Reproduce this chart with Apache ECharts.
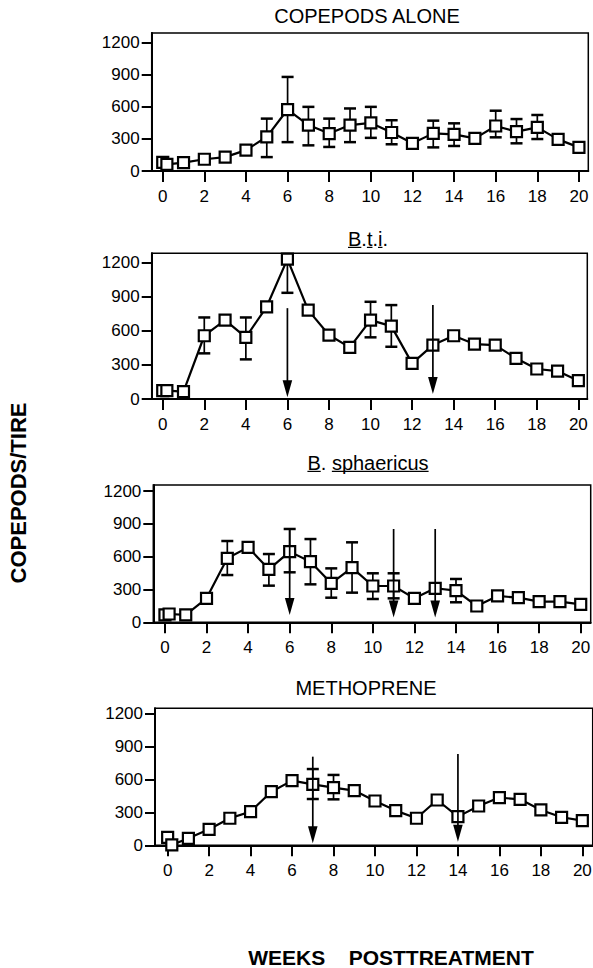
<!DOCTYPE html>
<html>
<head>
<meta charset="utf-8">
<script src="https://cdn.jsdelivr.net/npm/echarts@6/dist/echarts.min.js"></script>
<style>
  html, body { margin: 0; padding: 0; background: #fff; }
  #chart { width: 593px; height: 968px; }
</style>
</head>
<body>
<div id="chart"></div>
<script>
// weeks posttreatment (two samples at week 0)
const weeks = [0, 0.2, 1, 2, 3, 4, 5, 6, 7, 8, 9, 10, 11, 12, 13, 14, 15, 16, 17, 18, 19, 20];
const xTicks = [0, 2, 4, 6, 8, 10, 12, 14, 16, 18, 20];
const yTicks = [0, 300, 600, 900, 1200];

// copepods alone
const aloneVals = [80, 62, 78, 110, 130, 195, 320, 575, 430, 350, 430, 450, 360, 259, 352, 343, 305, 421, 368, 408, 296, 221];
const aloneErrWeeks = [5, 6, 7, 8, 9, 10, 11, 13, 14, 16, 17, 18];
const aloneErrLow = [130, 270, 240, 225, 270, 310, 250, 221, 234, 315, 259, 299];
const aloneErrHigh = [490, 880, 600, 490, 585, 600, 475, 471, 446, 564, 486, 524];
const aloneArrowWeeks = [];

// B.t.i.
const btiVals = [73, 73, 65, 557, 695, 543, 812, 1232, 783, 563, 455, 695, 642, 314, 475, 557, 484, 475, 358, 264, 246, 161];
const btiErrWeeks = [2, 4, 6, 10, 11];
const btiErrLow = [402, 349, 935, 543, 460];
const btiErrHigh = [718, 718, 1232, 856, 827];
const btiArrowWeeks = [6, 13];
const btiArrowFrom = [800, 827];
const btiArrowTo = [15, 45];

// B. sphaericus
const sphVals = [67, 76, 67, 219, 585, 685, 484, 646, 554, 356, 500, 332, 332, 219, 311, 289, 149, 241, 225, 189, 189, 164];
const sphErrWeeks = [3, 5, 6, 7, 8, 9, 10, 11, 14];
const sphErrLow = [432, 335, 457, 347, 225, 271, 213, 219, 183];
const sphErrHigh = [743, 624, 853, 761, 493, 731, 448, 448, 396];
const sphArrowWeeks = [6, 11, 13];
const sphArrowFrom = [853, 853, 853];
const sphArrowTo = [67, 43, 43];

// methoprene
const methVals = [73, 3, 64, 146, 247, 308, 490, 591, 557, 527, 500, 405, 317, 247, 414, 262, 359, 436, 420, 323, 256, 225];
const methErrWeeks = [7, 8];
const methErrLow = [423, 420];
const methErrHigh = [697, 643];
const methArrowWeeks = [7, 14];
const methArrowFrom = [810, 835];
const methArrowTo = [18, 33];

const FONT = '"Liberation Sans", Arial, Helvetica, sans-serif';

const panels = [
  { vals: aloneVals, ew: aloneErrWeeks, el: aloneErrLow, eh: aloneErrHigh, aw: aloneArrowWeeks, af: [], at: [],
    grid: { left: 151.7, top: 33, width: 436.6, height: 138 }, xMin: -0.53, xMax: 20.45, yMax: 1291 },
  { vals: btiVals, ew: btiErrWeeks, el: btiErrLow, eh: btiErrHigh, aw: btiArrowWeeks, af: btiArrowFrom, at: btiArrowTo,
    grid: { left: 151.7, top: 253.3, width: 435.6, height: 145.7 }, xMin: -0.53, xMax: 20.43, yMax: 1283 },
  { vals: sphVals, ew: sphErrWeeks, el: sphErrLow, eh: sphErrHigh, aw: sphArrowWeeks, af: sphArrowFrom, at: sphArrowTo,
    grid: { left: 153.3, top: 485, width: 437.4, height: 137.3 }, xMin: -0.56, xMax: 20.48, yMax: 1255 },
  { vals: methVals, ew: methErrWeeks, el: methErrLow, eh: methErrHigh, aw: methArrowWeeks, af: methArrowFrom, at: methArrowTo,
    grid: { left: 155, top: 708.3, width: 437.7, height: 137 }, xMin: -0.61, xMax: 20.5, yMax: 1252 }
];

function renderErr(params, api) {
  const x = api.value(0);
  const lo = api.coord([x, api.value(1)]);
  const hi = api.coord([x, api.value(2)]);
  const w = 6;
  return {
    type: 'group',
    children: [
      { type: 'line', shape: { x1: lo[0], y1: lo[1], x2: hi[0], y2: hi[1] }, style: { stroke: '#000', lineWidth: 1.7 } },
      { type: 'line', shape: { x1: lo[0] - w, y1: lo[1], x2: lo[0] + w, y2: lo[1] }, style: { stroke: '#000', lineWidth: 2.5 } },
      { type: 'line', shape: { x1: hi[0] - w, y1: hi[1], x2: hi[0] + w, y2: hi[1] }, style: { stroke: '#000', lineWidth: 2.5 } }
    ]
  };
}

function renderArrow(params, api) {
  const x = api.value(0);
  const a = api.coord([x, api.value(1)]);
  const b = api.coord([x, api.value(2)]);
  const hl = 17, hw = 4.8;
  return {
    type: 'group',
    children: [
      { type: 'line', shape: { x1: a[0], y1: a[1], x2: b[0], y2: b[1] - hl + 2 }, style: { stroke: '#000', lineWidth: 1.7 } },
      { type: 'polygon', shape: { points: [[b[0] - hw, b[1] - hl], [b[0] + hw, b[1] - hl], [b[0], b[1]]] }, style: { fill: '#000' } }
    ]
  };
}

const grids = [], xAxes = [], yAxes = [], series = [];
panels.forEach(function (p, i) {
  grids.push(Object.assign({ show: true, borderColor: '#000', borderWidth: 1.5, containLabel: false, outerBoundsMode: 'none' }, p.grid));
  xAxes.push({
    type: 'value', gridIndex: i, min: p.xMin, max: p.xMax,
    axisLine: { show: true, onZero: false, lineStyle: { color: '#000', width: 2 } },
    axisTick: { show: true, customValues: xTicks, length: 11, lineStyle: { color: '#000', width: 2 } },
    axisLabel: { customValues: xTicks, margin: 17, fontSize: 17, color: '#000', fontFamily: FONT },
    splitLine: { show: false }
  });
  yAxes.push({
    type: 'value', gridIndex: i, min: 0, max: p.yMax,
    axisLine: { show: true, onZero: false, lineStyle: { color: '#000', width: 2 } },
    axisTick: { show: true, customValues: yTicks, length: 10, lineStyle: { color: '#000', width: 2 } },
    axisLabel: { customValues: yTicks, margin: 12, fontSize: 17, color: '#000', fontFamily: FONT,
      formatter: function (v) { return String(v); } },
    splitLine: { show: false }
  });
  series.push({
    type: 'custom', xAxisIndex: i, yAxisIndex: i, z: 1,
    renderItem: renderErr, encode: { x: 0, y: [1, 2] },
    data: p.ew.map(function (w, k) { return [w, p.el[k], p.eh[k]]; })
  });
  series.push({
    type: 'line', xAxisIndex: i, yAxisIndex: i, z: 2,
    symbol: 'rect', symbolSize: 11, showAllSymbol: true,
    lineStyle: { color: '#000', width: 2.2 },
    itemStyle: { color: '#fff', borderColor: '#000', borderWidth: 2.2 },
    data: weeks.map(function (w, k) { return [w, p.vals[k]]; })
  });
  series.push({
    type: 'custom', xAxisIndex: i, yAxisIndex: i, z: 3,
    renderItem: renderArrow, encode: { x: 0, y: [1, 2] },
    data: p.aw.map(function (w, k) { return [w, p.af[k], p.at[k]]; })
  });
});

function txt(s, x, y, size, weight, extra) {
  return Object.assign({
    type: 'text', x: x, y: y,
    style: { text: s, fill: '#000', font: weight + ' ' + size + 'px ' + FONT, textAlign: 'center', textVerticalAlign: 'middle' }
  }, extra || {});
}

// centred title with some parts underlined (parts: [text, underlined])
const measureCtx = document.createElement('canvas').getContext('2d');
function underlinedTitle(parts, cx, cy, size) {
  const font = 'normal ' + size + 'px ' + FONT;
  measureCtx.font = font;
  const full = parts.map(function (p) { return p[0]; }).join('');
  let x = cx - measureCtx.measureText(full).width / 2;
  const yLine = cy + size * 0.42;
  const out = [txt(full, cx, cy, size, 'normal')];
  parts.forEach(function (p) {
    const w = measureCtx.measureText(p[0]).width;
    if (p[1]) {
      out.push({ type: 'line', shape: { x1: x, y1: yLine, x2: x + w, y2: yLine }, style: { stroke: '#000', lineWidth: 1.2 } });
    }
    x += w;
  });
  return out;
}

const chart = echarts.init(document.getElementById('chart'), null, { renderer: 'svg' });
chart.setOption({
  animation: false,
  backgroundColor: '#fff',
  grid: grids,
  xAxis: xAxes,
  yAxis: yAxes,
  series: series,
  graphic: [
    txt('COPEPODS ALONE', 367, 16, 20, 'normal'),
    txt('METHOPRENE', 366, 688, 20, 'normal'),
    txt('COPEPODS/TIRE', 18, 493, 22, 'bold', { rotation: Math.PI / 2 }),
    txt('WEEKS\u00a0\u00a0\u00a0\u00a0POSTTREATMENT', 391, 957, 21, 'bold')
  ].concat(
    underlinedTitle([['B', true], ['.', false], ['t', true], ['.', false], ['i', true], ['.', false]], 368, 239, 20),
    underlinedTitle([['B', true], ['.', false], [' ', false], ['sphaericus', true]], 368, 463, 20)
  )
});
</script>
</body>
</html>
